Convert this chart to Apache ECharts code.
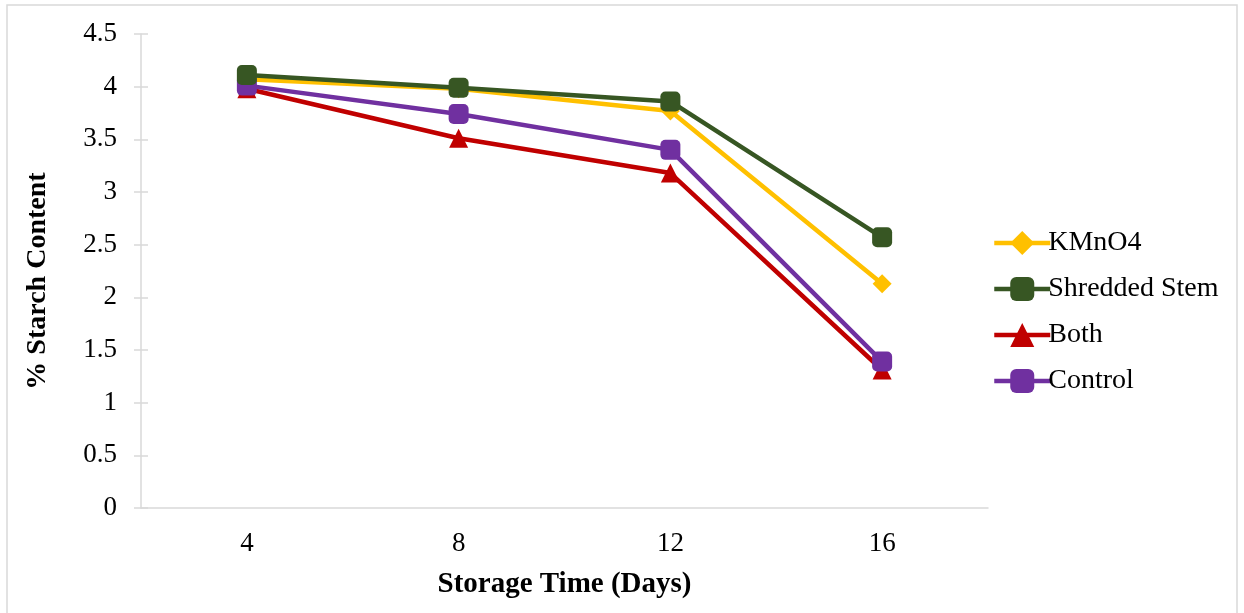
<!DOCTYPE html>
<html>
<head>
<meta charset="utf-8">
<script src="https://cdn.jsdelivr.net/npm/echarts@6/dist/echarts.min.js"></script>
<style>
  html, body { margin: 0; padding: 0; background: #fff; }
  #chart { width: 1244px; height: 613px; }
</style>
</head>
<body>
<div id="chart"></div>
<script>
// Storage days on the x axis
const days = ['4', '8', '12', '16'];

// % starch content per treatment
const kmno4 = [4.07, 3.98, 3.77, 2.13];
const shreddedStem = [4.11, 3.99, 3.86, 2.57];
const both = [3.98, 3.51, 3.18, 1.31];
const control = [4.01, 3.74, 3.40, 1.39];

const seriesNames = ['KMnO4', 'Shredded Stem', 'Both', 'Control'];
const seriesColors = ['#FFC000', '#375623', '#C00000', '#7030A0'];
const seriesSymbols = ['diamond', 'roundRect', 'triangle', 'roundRect'];
const seriesSizes = [19, 20, 19, 20];
const seriesData = [kmno4, shreddedStem, both, control];

const font = 'Liberation Serif, Times New Roman, serif';
const axisGrey = '#D9D9D9';

const chart = echarts.init(document.getElementById('chart'));

const series = seriesNames.map((name, i) => ({
  name,
  type: 'line',
  data: seriesData[i],
  symbol: seriesSymbols[i],
  symbolSize: seriesSizes[i],
  showAllSymbol: true,
  lineStyle: { color: seriesColors[i], width: 4.5 },
  itemStyle: { color: seriesColors[i] },
  emphasis: { disabled: true },
  z: [3, 5, 2, 4][i]
}));

chart.setOption({
  animation: false,
  backgroundColor: '#fff',
  graphic: [{
    type: 'rect',
    shape: { x: 7, y: 5, width: 1230, height: 620 },
    style: { fill: 'none', stroke: '#D9D9D9', lineWidth: 1.5 },
    silent: true
  }],
  grid: { left: 141, right: 256, top: 34, bottom: 105, containLabel: false },
  legend: {
    orient: 'vertical',
    left: 987,
    top: 224,
    itemWidth: 56,
    itemHeight: 30,
    itemGap: 18,
    lineStyle: { width: 4.5 },
    textStyle: { fontFamily: font, fontSize: 28, lineHeight: 28, color: '#000', padding: [0, 0, 0, -7] },
    data: seriesNames
  },
  xAxis: [{
    type: 'category',
    data: days,
    boundaryGap: true,
    axisLine: { lineStyle: { color: axisGrey, width: 1.5 } },
    axisTick: { alignWithLabel: true, length: 6, lineStyle: { color: axisGrey, width: 1.5 } },
    axisLabel: { fontFamily: font, fontSize: 27, color: '#000', margin: 22 },
    name: 'Storage Time (Days)',
    nameLocation: 'middle',
    nameGap: 62,
    nameTextStyle: { fontFamily: font, fontSize: 29, fontWeight: 'bold', color: '#000' }
  }, {
    // inner half of the crossing tick marks
    type: 'category',
    data: days,
    position: 'bottom',
    boundaryGap: true,
    axisLine: { show: false },
    axisTick: { inside: true, alignWithLabel: true, length: 6, lineStyle: { color: axisGrey, width: 1.5 } },
    axisLabel: { show: false }
  }],
  yAxis: [{
    type: 'value',
    min: 0,
    max: 4.5,
    interval: 0.5,
    splitLine: { show: false },
    axisLine: { show: true, lineStyle: { color: axisGrey, width: 1.5 } },
    axisTick: { show: true, length: 7, lineStyle: { color: axisGrey, width: 1.5 } },
    axisLabel: { fontFamily: font, fontSize: 27, color: '#000', margin: 24 },
    name: '% Starch Content',
    nameLocation: 'middle',
    nameGap: 89,
    nameRotate: 90,
    nameTextStyle: { fontFamily: font, fontSize: 28, fontWeight: 'bold', color: '#000', padding: [0, 20, 0, 0] }
  }, {
    type: 'value',
    position: 'left',
    min: 0,
    max: 4.5,
    interval: 0.5,
    splitLine: { show: false },
    axisLine: { show: false },
    axisTick: { show: true, inside: true, length: 7, lineStyle: { color: axisGrey, width: 1.5 } },
    axisLabel: { show: false }
  }],
  series
});
</script>
</body>
</html>
